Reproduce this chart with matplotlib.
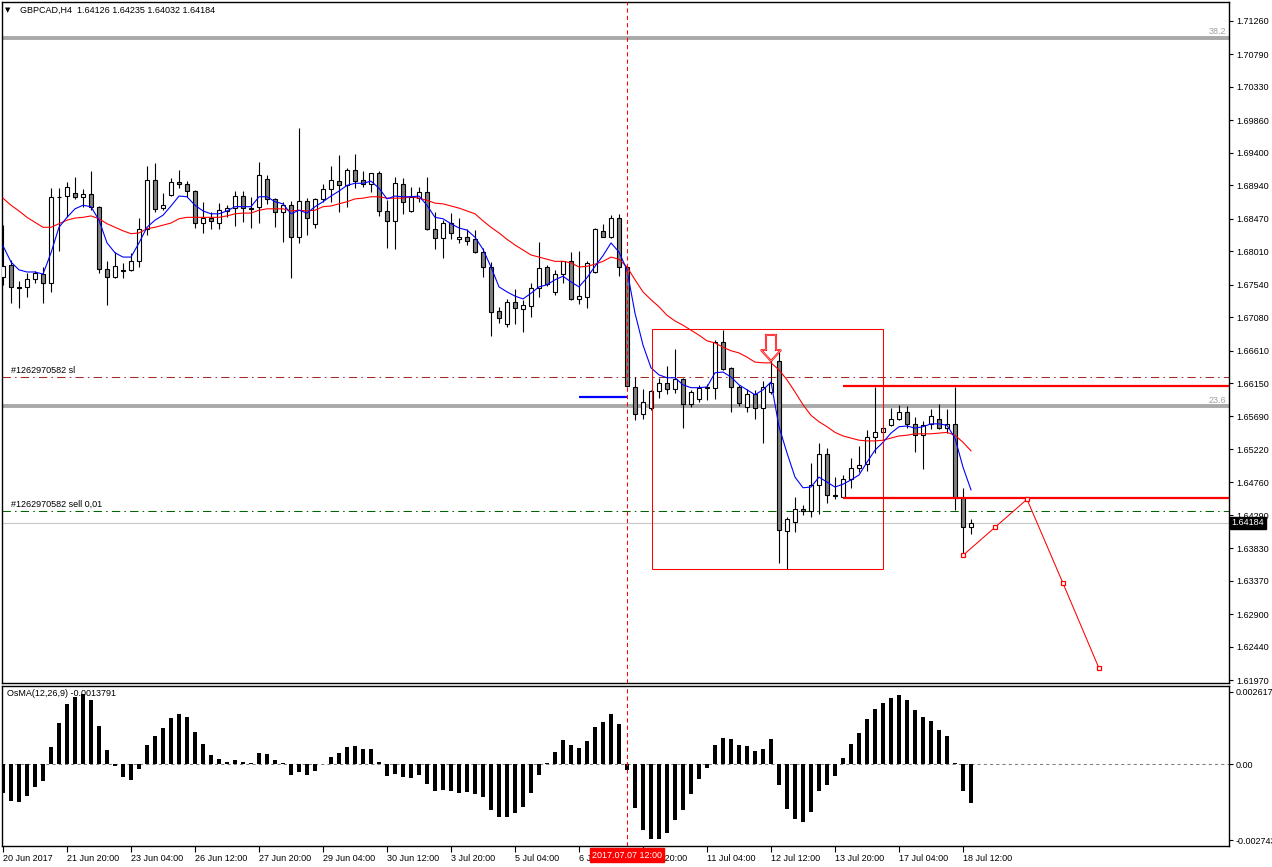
import numpy as np
import matplotlib
matplotlib.use('Agg')
import matplotlib.pyplot as plt
import matplotlib.transforms as mtransforms
from matplotlib.patches import Rectangle, Polygon

""" GBPCAD H4 chart with MAs and OsMA, MT4 style """

plt.rcParams['font.family'] = ['Liberation Sans', 'DejaVu Sans']

# ---- candle data (H4 bars, 20 Jun - 18 Jul 2017) ----
opens = [1.6765, 1.6782, 1.6751, 1.6751, 1.6762, 1.6769, 1.6756, 1.6878, 1.6879, 1.6883,
         1.6878, 1.6882, 1.6864, 1.6776, 1.6765, 1.6775, 1.6775, 1.6787, 1.6833, 1.6902,
         1.6862, 1.6880, 1.6899, 1.6896, 1.6886, 1.6841, 1.6848, 1.6841, 1.6858, 1.6862,
         1.6879, 1.6862, 1.6864, 1.6903, 1.6875, 1.6856, 1.6866, 1.6821, 1.6872, 1.6840,
         1.6875, 1.6889, 1.6900, 1.6894, 1.6916, 1.6902, 1.6896, 1.6911, 1.6858, 1.6844,
         1.6896, 1.6858, 1.6876, 1.6885, 1.6833, 1.6820, 1.6841, 1.6818, 1.6821, 1.6818,
         1.6800, 1.6779, 1.6717, 1.6699, 1.6730, 1.6720, 1.6724, 1.6749, 1.6779, 1.6744,
         1.6769, 1.6787, 1.6734, 1.6737, 1.6772, 1.6830, 1.6821, 1.6848, 1.6779, 1.6610,
         1.6572, 1.6580, 1.6605, 1.6616, 1.6607, 1.6621, 1.6586, 1.6593, 1.6608, 1.6608,
         1.6673, 1.6637, 1.6610, 1.6582, 1.6600, 1.6580, 1.6603, 1.6647, 1.6407, 1.6420,
         1.6438, 1.6435, 1.6472, 1.6516, 1.6458, 1.6455, 1.6480, 1.6496, 1.6501, 1.6539,
         1.6546, 1.6556, 1.6565, 1.6575, 1.6558, 1.6542, 1.6558, 1.6565, 1.6552, 1.6558,
         1.6454, 1.64126]
highs = [1.6838, 1.6789, 1.6759, 1.6771, 1.6773, 1.6779, 1.6890, 1.6890, 1.6899, 1.6906,
         1.6889, 1.6914, 1.6865, 1.6787, 1.6800, 1.6785, 1.6799, 1.6848, 1.6921, 1.6926,
         1.6883, 1.6904, 1.6916, 1.6900, 1.6888, 1.6871, 1.6857, 1.6869, 1.6866, 1.6886,
         1.6886, 1.6878, 1.6927, 1.6909, 1.6876, 1.6871, 1.6872, 1.6975, 1.6876, 1.6876,
         1.6896, 1.6921, 1.6937, 1.6918, 1.6938, 1.6914, 1.6912, 1.6914, 1.6873, 1.6906,
         1.6904, 1.6892, 1.6892, 1.6906, 1.6856, 1.6845, 1.6855, 1.6848, 1.6833, 1.6831,
         1.6806, 1.6786, 1.6723, 1.6734, 1.6748, 1.6733, 1.6757, 1.6814, 1.6782, 1.6775,
         1.6788, 1.6800, 1.6802, 1.6788, 1.6834, 1.6840, 1.6852, 1.6854, 1.6780, 1.6624,
         1.6607, 1.6606, 1.6623, 1.6640, 1.6663, 1.6622, 1.6606, 1.6613, 1.6614, 1.6676,
         1.6690, 1.6638, 1.6613, 1.6607, 1.6606, 1.6618, 1.6670, 1.6659, 1.6427, 1.6455,
         1.6444, 1.6503, 1.6531, 1.6524, 1.6483, 1.6486, 1.6510, 1.6527, 1.6549, 1.6610,
         1.6553, 1.6580, 1.6585, 1.6583, 1.6568, 1.6562, 1.6579, 1.6586, 1.6579, 1.6610,
         1.6468, 1.64235]
lows = [1.6754, 1.6728, 1.6721, 1.6737, 1.6756, 1.6728, 1.6744, 1.6802, 1.6849, 1.6875,
        1.6864, 1.6859, 1.6771, 1.6725, 1.6764, 1.6764, 1.6773, 1.6779, 1.6824, 1.6856,
        1.6859, 1.6879, 1.6890, 1.6878, 1.6834, 1.6827, 1.6833, 1.6833, 1.6849, 1.6837,
        1.6842, 1.6834, 1.6841, 1.6868, 1.6835, 1.6814, 1.6764, 1.6813, 1.6824, 1.6834,
        1.6871, 1.6871, 1.6856, 1.6864, 1.6890, 1.6892, 1.6885, 1.6851, 1.6806, 1.6804,
        1.6854, 1.6856, 1.6871, 1.6831, 1.6804, 1.6792, 1.6818, 1.6813, 1.6810, 1.6799,
        1.6765, 1.6682, 1.6700, 1.6694, 1.6699, 1.6687, 1.6709, 1.6737, 1.6752, 1.6740,
        1.6756, 1.6733, 1.6727, 1.6721, 1.6771, 1.6821, 1.6820, 1.6766, 1.6610, 1.6563,
        1.6565, 1.6578, 1.6594, 1.6600, 1.6602, 1.6552, 1.6582, 1.6589, 1.6592, 1.6593,
        1.6634, 1.6575, 1.6583, 1.6575, 1.6565, 1.6531, 1.6600, 1.6362, 1.6353, 1.6406,
        1.6430, 1.6427, 1.6431, 1.6447, 1.6452, 1.6454, 1.6468, 1.6490, 1.6491, 1.6517,
        1.6539, 1.6555, 1.6563, 1.6552, 1.6518, 1.6494, 1.6551, 1.6551, 1.6545, 1.6437,
        1.6373, 1.64032]
closes = [1.6780, 1.6751, 1.6750, 1.6762, 1.6771, 1.6756, 1.6878, 1.6877, 1.6892, 1.6878,
          1.6882, 1.6864, 1.6776, 1.6765, 1.6780, 1.6774, 1.6787, 1.6833, 1.6902, 1.6861,
          1.6866, 1.6899, 1.6896, 1.6886, 1.6841, 1.6848, 1.6844, 1.6859, 1.6862, 1.6879,
          1.6862, 1.6861, 1.6909, 1.6875, 1.6856, 1.6866, 1.6821, 1.6872, 1.6848, 1.6875,
          1.6889, 1.6902, 1.6894, 1.6916, 1.6900, 1.6896, 1.6911, 1.6858, 1.6844, 1.6897,
          1.6871, 1.6878, 1.6885, 1.6833, 1.6820, 1.6841, 1.6827, 1.6821, 1.6816, 1.6800,
          1.6779, 1.6716, 1.6707, 1.6730, 1.6721, 1.6725, 1.6749, 1.6778, 1.6755, 1.6769,
          1.6787, 1.6734, 1.6738, 1.6785, 1.6833, 1.6821, 1.6848, 1.6779, 1.6611, 1.6572,
          1.6589, 1.6604, 1.6616, 1.6607, 1.6621, 1.6586, 1.6603, 1.6608, 1.6610, 1.6673,
          1.6635, 1.6610, 1.6587, 1.6600, 1.6580, 1.6610, 1.6616, 1.6408, 1.6424, 1.6438,
          1.6435, 1.6472, 1.6516, 1.6458, 1.6456, 1.6480, 1.6496, 1.6500, 1.6539, 1.6546,
          1.6552, 1.6565, 1.6575, 1.6558, 1.6542, 1.6556, 1.6569, 1.6552, 1.6558, 1.6454,
          1.6413, 1.64184]

# moving averages as shown on the chart
ma_fast = [1.6809, 1.6786, 1.6775, 1.6772, 1.6772, 1.6769, 1.6799, 1.6835, 1.6849, 1.6861,
           1.6866, 1.6864, 1.6845, 1.6813, 1.6799, 1.6793, 1.6793, 1.6813, 1.6835, 1.6845,
           1.6852, 1.6865, 1.6879, 1.6878, 1.6866, 1.6858, 1.6854, 1.6854, 1.6858, 1.6864,
           1.6864, 1.6864, 1.6878, 1.6878, 1.6871, 1.6868, 1.6854, 1.6859, 1.6855, 1.6864,
           1.6871, 1.6879, 1.6886, 1.6894, 1.6897, 1.6897, 1.6900, 1.6890, 1.6875, 1.6879,
           1.6878, 1.6878, 1.6879, 1.6866, 1.6849, 1.6847, 1.6840, 1.6834, 1.6831, 1.6821,
           1.6804, 1.6779, 1.6751, 1.6744, 1.6738, 1.6734, 1.6742, 1.6751, 1.6754, 1.6761,
           1.6766, 1.6758, 1.6751, 1.6764, 1.6780, 1.6795, 1.6813, 1.6800, 1.6775, 1.6714,
           1.6669, 1.6637, 1.6627, 1.6623, 1.6623, 1.6613, 1.6609, 1.6609, 1.6610, 1.6630,
           1.6631, 1.6624, 1.6613, 1.6606, 1.6599, 1.6606, 1.6617, 1.6554, 1.6517, 1.6483,
           1.6468, 1.6469, 1.6483, 1.6476, 1.6469, 1.6473, 1.6479, 1.6486, 1.6504, 1.6521,
           1.6532, 1.6545, 1.6554, 1.6555, 1.6552, 1.6554, 1.6558, 1.6558, 1.6556, 1.6538,
           1.6497, 1.6465]
ma_slow = [1.6876, 1.6866, 1.6858, 1.6849, 1.6842, 1.6835, 1.6835, 1.6840, 1.6845, 1.6848,
           1.6849, 1.6851, 1.6847, 1.6840, 1.6835, 1.6830, 1.6826, 1.6827, 1.6833, 1.6835,
           1.6838, 1.6841, 1.6847, 1.6849, 1.6849, 1.6849, 1.6849, 1.6849, 1.6851, 1.6854,
           1.6855, 1.6855, 1.6859, 1.6861, 1.6861, 1.6861, 1.6858, 1.6859, 1.6858, 1.6859,
           1.6864, 1.6865, 1.6868, 1.6871, 1.6875, 1.6876, 1.6878, 1.6878, 1.6876, 1.6876,
           1.6876, 1.6878, 1.6876, 1.6873, 1.6869, 1.6868, 1.6865, 1.6862, 1.6858, 1.6854,
           1.6844, 1.6835, 1.6827, 1.6818, 1.6810, 1.6803, 1.6796, 1.6793, 1.6790, 1.6787,
           1.6787, 1.6785, 1.6779, 1.6780, 1.6783, 1.6787, 1.6793, 1.6790, 1.6779, 1.6761,
           1.6744, 1.6733, 1.6723, 1.6711, 1.6703, 1.6697, 1.6690, 1.6683, 1.6675, 1.6672,
           1.6666, 1.6661, 1.6658, 1.6652, 1.6645, 1.6644, 1.6644, 1.6634, 1.6620, 1.6603,
           1.6585, 1.6570, 1.6561, 1.6554, 1.6546, 1.6541, 1.6538, 1.6535, 1.6534, 1.6534,
           1.6535, 1.6538, 1.6541, 1.6542, 1.6544, 1.6544, 1.6544, 1.6545, 1.6546, 1.6542,
           1.6532, 1.6520]

# OsMA(12,26,9) histogram
osma = [-0.00102, -0.00131, -0.00135, -0.00113, -0.00081, -0.00059, 0.00064, 0.00150, 0.00218, 0.00244,
        0.00254, 0.00232, 0.00140, 0.00052, -0.00005, -0.00045, -0.00057, -0.00018, 0.00070, 0.00102,
        0.00132, 0.00168, 0.00182, 0.00172, 0.00117, 0.00073, 0.00034, 0.00019, 0.00010, 0.00016,
        0.00010, 0.00006, 0.00042, 0.00037, 0.00016, 0.00005, -0.00038, -0.00026, -0.00038, -0.00023,
        0.00001, 0.00025, 0.00042, 0.00064, 0.00067, 0.00055, 0.00055, 0.00010, -0.00042, -0.00035,
        -0.00045, -0.00048, -0.00038, -0.00071, -0.00095, -0.00093, -0.00095, -0.00102, -0.00099, -0.00107,
        -0.00117, -0.00165, -0.00191, -0.00189, -0.00174, -0.00153, -0.00102, -0.00038, 0.00004, 0.00046,
        0.00088, 0.00070, 0.00060, 0.00084, 0.00136, 0.00153, 0.00182, 0.00147, -0.00020, -0.00156,
        -0.00237, -0.00268, -0.00268, -0.00247, -0.00201, -0.00165, -0.00107, -0.00053, -0.00012, 0.00070,
        0.00095, 0.00091, 0.00070, 0.00066, 0.00048, 0.00055, 0.00091, -0.00075, -0.00161, -0.00196,
        -0.00207, -0.00171, -0.00095, -0.00075, -0.00042, 0.00023, 0.00073, 0.00114, 0.00164, 0.00200,
        0.00221, 0.00239, 0.00250, 0.00232, 0.00196, 0.00171, 0.00156, 0.00124, 0.00102, 0.00005,
        -0.00095, -0.00138]

# time axis labels (every 8 bars)
tick_bars = [0, 8, 16, 24, 32, 40, 48, 56, 64, 72, 80, 88, 96, 104, 112, 120]
tick_text = ['20 Jun 2017', '21 Jun 20:00', '23 Jun 04:00', '26 Jun 12:00', '27 Jun 20:00',
             '29 Jun 04:00', '30 Jun 12:00', '3 Jul 20:00', '5 Jul 04:00', '6 Jul 12:00',
             '7 Jul 20:00', '11 Jul 04:00', '12 Jul 12:00', '13 Jul 20:00', '17 Jul 04:00',
             '18 Jul 12:00']
price_ticks = [1.71260, 1.70790, 1.70330, 1.69860, 1.69400, 1.68940, 1.68470, 1.68010, 1.67540,
               1.67080, 1.66610, 1.66150, 1.65690, 1.65220, 1.64760, 1.64290, 1.63830, 1.63370,
               1.62900, 1.62440, 1.61970]
osma_ticks = [0.002617, 0.0, -0.002743]
osma_tick_text = ['0.002617', '0.00', '-0.002743']

# chart objects
fib_382 = 1.71021
fib_236 = 1.65829
sl_level = 1.66244
sell_level = 1.64352
bid = 1.64184
res_level = 1.66120
sup_level = 1.64539
blue_level = 1.65962
marked_bar = 78          # 2017.07.07 12:00
box_x = (81.1, 110.04)
box_y = (1.63535, 1.66921)
proj_x = [120, 124, 128, 132.5, 137]
proj_y = [1.63728, 1.64123, 1.64517, 1.63334, 1.62137]

# ---- figure ----
W, H = 1272, 867
fig = plt.figure(figsize=(W / 100, H / 100), dpi=100)


def px_rect(x0, y0, x1, y1):
    return [x0 / W, 1 - y1 / H, (x1 - x0) / W, (y1 - y0) / H]


ax = fig.add_axes(px_rect(2, 2, 1229, 683))
ax2 = fig.add_axes(px_rect(2, 686, 1229, 846))

xlim = (-0.125, 153.25)
o = np.array(opens)
h = np.array(highs)
l = np.array(lows)
c = np.array(closes)
x = np.arange(len(o))

# candles
ax.vlines(x, l, h, color='black', lw=0.8, zorder=3)
body = np.maximum(np.abs(c - o), 0.00002)
ax.bar(x, body, bottom=np.minimum(o, c), width=0.62,
       color=np.where(c >= o, 'white', '#808080'), edgecolor='black', linewidth=0.8, zorder=4)

# moving averages
ax.plot(x, ma_slow, color='red', lw=0.8, zorder=5)
ax.plot(x, ma_fast, color='blue', lw=0.8, zorder=5)

# fibo levels
ax.axhline(fib_382, color='#a9a9a9', lw=2.8, zorder=1)
ax.axhline(fib_236, color='#a9a9a9', lw=2.8, zorder=1)
ax.text(xlim[1] - 0.3, fib_382 + 0.0002, '38.2', color='#a0a0a0', fontsize=6.5, ha='right', va='bottom')
ax.text(xlim[1] - 0.3, fib_236 + 0.0002, '23.6', color='#a0a0a0', fontsize=6.5, ha='right', va='bottom')

# order lines
ax.axhline(sl_level, color='#a52a2a', lw=0.75, dashes=(8, 4, 1.5, 4), zorder=2)
ax.axhline(sell_level, color='#006400', lw=0.75, dashes=(8, 4, 1.5, 4), zorder=2)
ax.axhline(bid, color='#c8c8c8', lw=0.8, zorder=1)
ax.text(1, sl_level + 0.0003, '#1262970582 sl', fontsize=6.5, va='bottom')
ax.text(1, sell_level + 0.0003, '#1262970582 sell 0,01', fontsize=6.5, va='bottom')

# drawn lines
ax.hlines([res_level, sup_level], 105, xlim[1], color='red', lw=1.6, zorder=6)
ax.hlines(blue_level, 72, 78, color='blue', lw=1.6, zorder=6)
ax.add_patch(Rectangle((box_x[0], box_y[0]), box_x[1] - box_x[0], box_y[1] - box_y[0],
                       fill=False, edgecolor='red', lw=0.75, zorder=6))

# down arrow above bar 96
ax_px = 1 / 8.0
ay_px = 0.0001409
tip_x, tip_y = 96, 1.66466
arrow = [(tip_x, tip_y), (tip_x - 10 * ax_px, tip_y + 11 * ay_px), (tip_x - 5 * ax_px, tip_y + 11 * ay_px),
         (tip_x - 5 * ax_px, tip_y + 26 * ay_px), (tip_x + 5 * ax_px, tip_y + 26 * ay_px),
         (tip_x + 5 * ax_px, tip_y + 11 * ay_px), (tip_x + 10 * ax_px, tip_y + 11 * ay_px)]
ax.add_patch(Polygon(arrow, closed=True, facecolor='white', edgecolor='red', lw=1.5, zorder=7))
ax.add_patch(Polygon(arrow, closed=True, fill=False, edgecolor='#ffb0b0', lw=0.5, zorder=7))

# projection path
ax.plot(proj_x, proj_y, color='red', lw=0.75, marker='s', ms=3.5, mfc='white', mec='red', mew=0.9, zorder=7)

# marked bar
ax.axvline(marked_bar, color='red', lw=0.75, dashes=(4, 3), zorder=6)
ax2.axvline(marked_bar, color='red', lw=0.75, dashes=(4, 3), zorder=6)

ax.set_xlim(*xlim)
ax.set_ylim(1.61929, 1.71524)
ax.yaxis.tick_right()
ax.set_yticks(price_ticks)
ax.set_yticklabels(['%.5f' % p for p in price_ticks])
ax.tick_params(axis='y', labelsize=6.5, length=3, pad=2, width=0.8)
ax.set_xticks([])
for s in ax.spines.values():
    s.set_linewidth(1)

trans = mtransforms.blended_transform_factory(ax.transAxes, ax.transData)
ax.text(1.002, bid, '1.64184', transform=trans, fontsize=6.5, color='white', va='center', ha='left',
        bbox=dict(facecolor='black', edgecolor='black', pad=1.2), zorder=10, clip_on=False)

# OsMA panel
ax2.bar(x, osma, width=0.38, color='black', zorder=3)
ax2.axhline(0, color='#808080', lw=0.75, dashes=(3, 3), zorder=2)
ax2.set_xlim(*xlim)
ax2.set_ylim(-0.002949, 0.002827)
ax2.yaxis.tick_right()
ax2.set_yticks(osma_ticks)
ax2.set_yticklabels(osma_tick_text)
ax2.tick_params(axis='y', labelsize=6.5, length=3, pad=2, width=0.8)
ax2.set_xticks(tick_bars)
ax2.set_xticklabels(tick_text, ha='left')
ax2.tick_params(axis='x', labelsize=6.5, length=4, pad=2, width=0.8)
for s in ax2.spines.values():
    s.set_linewidth(1)

# header texts
fig.text(5 / W, 1 - 10 / H, '\u25bc', fontsize=5, va='center', family=['DejaVu Sans'])
fig.text(20 / W, 1 - 10 / H, 'GBPCAD,H4  1.64126 1.64235 1.64032 1.64184', fontsize=6.5, va='center')
fig.text(7 / W, 1 - 694 / H, 'OsMA(12,26,9) -0.0013791', fontsize=6.5, va='center')

# marked time label on axis
fig.text(627 / W, 1 - 855 / H, '2017.07.07 12:00', fontsize=6.5, color='white', ha='center', va='center',
         bbox=dict(facecolor='red', edgecolor='red', pad=1.5), zorder=10)

fig.savefig('out.png', dpi=100)
